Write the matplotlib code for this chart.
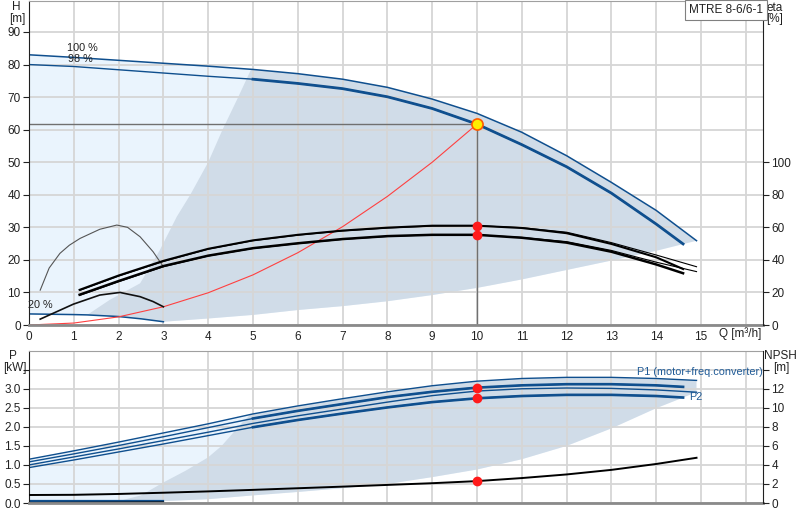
import numpy as np
import matplotlib.pyplot as plt

plt.rcParams['font.family'] = ['Liberation Sans', 'DejaVu Sans']
plt.rcParams['font.size'] = 8.5

# ---- data ----
# head curves, H [m]
q_h100 = [0, 1, 2, 3, 4, 5, 6, 7, 8, 9, 10, 11, 12, 13, 14, 14.9]
h100 = [83.0, 82.2, 81.3, 80.4, 79.5, 78.5, 77.2, 75.5, 73.0, 69.4, 65.0, 59.2, 52.0, 43.8, 35.2, 25.9]
q_h98 = [0, 1, 2, 3, 4, 5, 6, 7, 8, 9, 10, 11, 12, 13, 14, 14.6]
h98 = [80.0, 79.4, 78.4, 77.4, 76.4, 75.5, 74.2, 72.6, 70.1, 66.5, 61.7, 55.4, 48.6, 40.5, 31.0, 24.9]
q_h20 = [0, 1, 1.3, 2, 2.5, 3]
h20 = [3.4, 3.2, 3.1, 2.6, 1.9, 1.0]

# system curve
q_sys = [0, 1, 2, 3, 4, 5, 6, 7, 8, 9, 10]
h_sys = [0, 0.6, 2.5, 5.6, 9.9, 15.4, 22.2, 30.2, 39.5, 50.0, 61.7]

# operating point
q_op = 10
h_op = 61.7
eta_op = [61.0, 55.4]

# efficiency curves, eta [%]
q_eta100 = [1.15, 2, 3, 4, 5, 6, 7, 8, 9, 10, 11, 12, 13, 14, 14.9]
q_eta98 = [1.13, 2, 3, 4, 5, 6, 7, 8, 9, 10, 11, 12, 13, 14, 14.6]
eta1_100 = [21.4, 30.0, 39.0, 46.6, 51.8, 55.2, 57.8, 59.6, 60.8, 61.0, 59.8, 57.0, 50.6, 43.0, 35.8]
eta1_98 = [21.6, 30.4, 39.4, 46.8, 52.0, 55.4, 58.0, 59.8, 61.0, 61.0, 59.6, 56.4, 49.8, 41.6, 34.4]
eta2_100 = [18.4, 26.6, 35.8, 42.4, 47.0, 50.0, 52.6, 54.4, 55.4, 55.4, 53.8, 51.2, 45.8, 38.6, 32.8]
eta2_98 = [18.6, 27.0, 36.2, 42.6, 47.2, 50.2, 52.8, 54.6, 55.4, 55.4, 53.6, 50.6, 45.0, 37.2, 31.8]
q_eta20a = [0.25, 0.45, 0.69, 0.9, 1.14, 1.58, 1.96, 2.2, 2.48, 2.77, 3.0]
eta20a = [21.4, 35.0, 44.0, 49.0, 53.2, 58.8, 61.4, 60.0, 54.2, 45.0, 35.8]
q_eta20b = [0.25, 0.99, 1.58, 2.03, 2.48, 2.77, 3.0]
eta20b = [3.6, 12.8, 18.4, 20.0, 17.4, 14.4, 11.2]

# operating range (H chart)
q_rng_left = [1.3, 1.8, 2.48, 2.92, 3.3, 3.6, 4.0, 4.32, 4.67, 4.95]
h_rng_left = [3.1, 7.7, 12.8, 23.0, 33.3, 40.0, 50.0, 60.0, 70.0, 78.3]
q_rng_low = [3, 4, 5, 6, 7, 8, 9, 10, 11, 12, 13, 14, 14.9]
h_rng_low = [1.0, 2.0, 3.1, 4.6, 5.8, 7.3, 9.2, 11.4, 14.0, 16.9, 19.8, 22.8, 25.9]

# power curves P [kW]
q_p100 = [0, 1, 2, 3, 4, 5, 6, 7, 8, 9, 10, 11, 12, 13, 14, 14.9]
q_p98 = [0, 1, 2, 3, 4, 5, 6, 7, 8, 9, 10, 11, 12, 13, 14, 14.6]
p1_100 = [1.15, 1.37, 1.60, 1.84, 2.08, 2.34, 2.55, 2.74, 2.92, 3.08, 3.20, 3.27, 3.30, 3.30, 3.27, 3.22]
p1_98 = [1.08, 1.29, 1.51, 1.74, 1.98, 2.22, 2.42, 2.60, 2.78, 2.92, 3.03, 3.09, 3.12, 3.12, 3.09, 3.05]
p2_100 = [1.00, 1.21, 1.42, 1.64, 1.86, 2.09, 2.29, 2.47, 2.65, 2.82, 2.94, 3.00, 3.02, 3.01, 2.97, 2.91]
p2_98 = [0.93, 1.13, 1.34, 1.55, 1.77, 1.99, 2.18, 2.35, 2.51, 2.65, 2.75, 2.81, 2.84, 2.84, 2.81, 2.77]
q_p20 = [0, 1, 2, 3]
p1_20 = [0.05, 0.05, 0.05, 0.05]
p2_20 = [0.01, 0.015, 0.02, 0.025]

# NPSH [m]
q_npsh = [0, 1, 2, 3, 4, 5, 6, 7, 8, 9, 10, 11, 12, 13, 14, 14.9]
npsh = [0.84, 0.86, 0.95, 1.08, 1.22, 1.38, 1.55, 1.72, 1.9, 2.08, 2.3, 2.62, 3.0, 3.48, 4.1, 4.75]
p_op = [3.03, 2.75]
npsh_op = 2.3

# operating range (P chart)
q_prng_left = [2.0, 2.5, 3.0, 3.5, 4.0, 4.3, 4.6, 4.75, 4.95]
p_prng_left = [0.05, 0.2, 0.54, 0.85, 1.2, 1.5, 1.9, 2.1, 2.33]
q_prng_low = [3, 4, 5, 6, 7, 8, 9, 10, 11, 12, 13, 14, 14.6, 14.9]
p_prng_low = [0.05, 0.1, 0.2, 0.29, 0.39, 0.5, 0.68, 0.88, 1.15, 1.5, 1.96, 2.49, 2.77, 2.91]

BLUE = '#0f4f8e'
LIGHT = '#eaf4fd'
GREY = '#d0dce8'
GRID = '#d6d6d6'
TXT = '#222222'
SMALL = 7.8

fig = plt.figure(figsize=(8, 5.2), dpi=100)
ax1 = fig.add_axes([29/800, 1-325/520, 734/800, 324/520])
ax2 = fig.add_axes([29/800, 1-503/520, 734/800, 152.3/520])
xmax = 734/44.8

# ---------------- top chart ----------------
ax1.set_xlim(0, xmax)
ax1.set_ylim(0, 324/3.2556)
ax1.set_axisbelow('line')
ax1.grid(True, color=GRID, lw=1.3)

qa = np.array(q_h100)
ha = np.array(h100)
light_x = list(q_h100) + q_rng_low[::-1] + q_h20[::-1]
light_y = list(h100) + h_rng_low[::-1] + h20[::-1]
ax1.fill(light_x, light_y, color=LIGHT, lw=0, zorder=0.8)
sel = qa > 4.95
grey_x = q_rng_left + list(qa[sel]) + q_rng_low[::-1] + q_h20[-1:1:-1]
grey_y = h_rng_left + list(ha[sel]) + h_rng_low[::-1] + h20[-1:1:-1]
ax1.fill(grey_x, grey_y, color=GREY, lw=0, zorder=0.9)

ax1.plot(q_h100, h100, color=BLUE, lw=1.1)
ax1.plot(q_h98, h98, color=BLUE, lw=1.0)
qb = np.array(q_h98)
hb = np.array(h98)
ax1.plot(qb[qb >= 5], hb[qb >= 5], color=BLUE, lw=2.0)
ax1.plot(q_h20, h20, color=BLUE, lw=1.1)
ax1.plot(q_sys, h_sys, color='#ff4040', lw=0.8)
ax1.plot([0, q_op], [h_op, h_op], color='#707070', lw=1.0)
ax1.plot([q_op, q_op], [0, h_op], color='#707070', lw=1.0)

ax1.text(0.85, 85.2, '100 %', color=TXT, va='center', fontsize=SMALL)
ax1.text(0.87, 81.6, '98 %', color=TXT, va='center', fontsize=SMALL)
ax1.text(-0.02, 6.1, '20 %', color=TXT, va='center', fontsize=SMALL)

ax1.set_xticks(range(0, 17))
ax1.set_xticklabels([str(i) for i in range(16)] + [''])
ax1.set_yticks(range(0, 100, 10))
ax1.tick_params(axis='x', length=0, pad=4, colors=TXT)
ax1.tick_params(axis='y', length=4, width=0.8, colors=TXT, pad=2)
ax1.spines['bottom'].set_color('#8a8a8a')
ax1.spines['bottom'].set_linewidth(2)
ax1.spines['top'].set_color('#a0a0a0')
ax1.spines['left'].set_color('#202020')
ax1.spines['right'].set_visible(False)

ax1r = ax1.twinx()
ax1r.set_ylim(0, 2*324/3.2556)
ax1r.set_yticks(range(0, 101, 20))
ax1r.tick_params(axis='y', length=4, width=0.8, colors=TXT, pad=2)
for s in ['top', 'bottom', 'left']:
    ax1r.spines[s].set_visible(False)
ax1r.spines['right'].set_color('#202020')

ax1r.plot(q_eta20a, eta20a, color='#555555', lw=0.8)
ax1r.plot(q_eta20b, eta20b, color='#111111', lw=1.2)
ax1r.plot(q_eta100, eta1_100, color='black', lw=0.8)
ax1r.plot(q_eta98, eta1_98, color='black', lw=1.5)
ax1r.plot(q_eta100, eta2_100, color='black', lw=0.8)
ax1r.plot(q_eta98, eta2_98, color='black', lw=1.8)
ax1r.plot([q_op, q_op], eta_op, 'o', color='#ff1a1a', ms=6, zorder=5)
ax1r.plot([q_op], [2*h_op], 'o', mfc='#ffee00', mec='#ff5a00', mew=1.2, ms=8, zorder=6)

# ---------------- bottom chart ----------------
ax2.set_xlim(0, xmax)
ax2.set_ylim(0, 4.0)
ax2.set_axisbelow('line')
ax2.grid(True, color=GRID, lw=1.3)

pa = np.array(p1_100)
qp = np.array(q_p100)
lx = list(q_p100) + q_prng_low[-2::-1] + q_p20[::-1]
ly = list(p1_100) + p_prng_low[-2::-1] + p1_20[::-1]
ax2.fill(lx, ly, color=LIGHT, lw=0, zorder=0.8)
sel = qp > 4.95
gx = q_prng_left + list(qp[sel]) + q_prng_low[::-1] + [2.0]
gy = p_prng_left + list(pa[sel]) + p_prng_low[::-1] + [0.05]
ax2.fill(gx, gy, color=GREY, lw=0, zorder=0.9)
ax2.fill_between([0, 1], [0, 0], [0.05, 0.05], color=GREY, lw=0, zorder=0.9)

qq = np.array(q_p98)
for vals, lw in [(p1_100, 1.0), (p2_100, 1.0)]:
    ax2.plot(q_p100, vals, color=BLUE, lw=lw)
for vals in [p1_98, p2_98]:
    v = np.array(vals)
    ax2.plot(q_p98, vals, color=BLUE, lw=1.0)
    ax2.plot(qq[qq >= 5], v[qq >= 5], color=BLUE, lw=1.9)
ax2.plot(q_p20, p1_20, color=BLUE, lw=1.6)
ax2.plot(q_p20, p2_20, color='#111111', lw=1.0)
ax2.plot([q_op, q_op], p_op, 'o', color='#ff1a1a', ms=6, zorder=5)

ax2.text(13.57, 3.45, 'P1 (motor+freq.converter)', color='#1f5a96', va='center', fontsize=SMALL)
ax2.text(14.73, 2.78, 'P2', color='#1f5a96', va='center', fontsize=SMALL)

ax2.set_xticks(range(0, 17))
ax2.set_xticklabels([])
ax2.set_yticks(np.arange(0, 3.51, 0.5))
ax2.set_yticklabels(['0.0', '0.5', '1.0', '1.5', '2.0', '2.5', '3.0', ''])
ax2.tick_params(axis='x', length=0)
ax2.tick_params(axis='y', length=4, width=0.8, colors=TXT, pad=2)
ax2.spines['bottom'].set_color('#8a8a8a')
ax2.spines['bottom'].set_linewidth(2)
ax2.spines['top'].set_color('#a0a0a0')
ax2.spines['left'].set_color('#202020')
ax2.spines['right'].set_visible(False)

ax2r = ax2.twinx()
ax2r.set_ylim(0, 16)
ax2r.set_yticks(range(0, 15, 2))
ax2r.set_yticklabels([str(i) for i in range(0, 13, 2)] + [''])
ax2r.tick_params(axis='y', length=4, width=0.8, colors=TXT, pad=2)
for s in ['top', 'bottom', 'left']:
    ax2r.spines[s].set_visible(False)
ax2r.spines['right'].set_color('#202020')
ax2r.plot(q_npsh, npsh, color='black', lw=1.4)
ax2r.plot([q_op], [npsh_op], 'o', color='#ff1a1a', ms=6, zorder=5)

# axis titles
def ftxt(x, y, s, **kw):
    fig.text(x/800, 1-y/520, s, color=TXT, ha='center', va='center', **kw)

ftxt(16, 7, 'H')
ftxt(17, 19, '[m]')
ftxt(775, 8, 'eta')
ftxt(775, 19, '[%]')
ftxt(740, 334, 'Q [m³/h]')
ftxt(13, 356, 'P')
ftxt(15, 368, '[kW]')
ftxt(780, 356, 'NPSH')
ftxt(781, 368, '[m]')
fig.text(726/800, 1-10/520, 'MTRE 8-6/6-1', color=TXT, ha='center', va='center',
         bbox=dict(boxstyle='square,pad=0.3', fc='white', ec='#808080', lw=0.8))

fig.savefig('out.png', dpi=100)
